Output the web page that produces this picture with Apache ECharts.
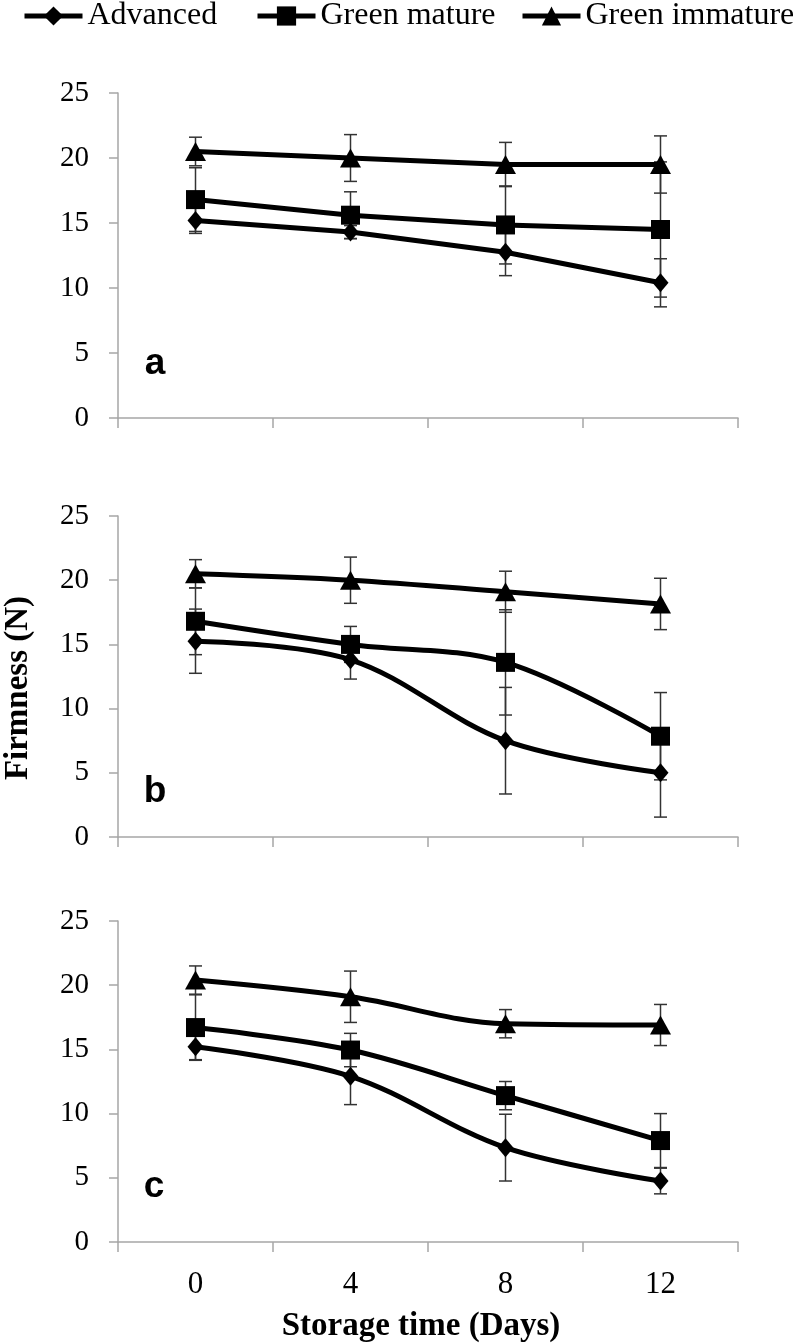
<!DOCTYPE html>
<html>
<head>
<meta charset="utf-8">
<script src="https://cdn.jsdelivr.net/npm/echarts@6/dist/echarts.min.js"></script>
<style>
html,body{margin:0;padding:0;background:#fff;}
#chart{width:793px;height:1343px;}
</style>
</head>
<body>
<div id="chart"></div>
<script>
const days = ['0', '4', '8', '12'];
const seriesNames = ['Advanced', 'Green mature', 'Green immature'];
const yTicks = [0, 5, 10, 15, 20, 25];
const panelLabels = ['a', 'b', 'c'];

// Panel a
const advA = [15.2, 14.3, 12.75, 10.4];
const errAdvA = [1.0, 0.5, 1.8, 1.85];
const matA = [16.8, 15.6, 14.85, 14.5];
const errMatA = [2.45, 1.8, 3.0, 5.2];
const immA = [20.5, 20.0, 19.5, 19.5];
const errImmA = [1.1, 1.8, 1.7, 2.2];

// Panel b
const advB = [15.25, 13.8, 7.5, 5.0];
const errAdvB = [2.5, 1.5, 4.15, 3.45];
const matB = [16.8, 15.0, 13.6, 7.85];
const errMatB = [2.6, 1.4, 4.1, 3.4];
const immB = [20.5, 20.0, 19.1, 18.15];
const errImmB = [1.1, 1.8, 1.6, 2.0];

// Panel c
const advC = [15.2, 12.9, 7.35, 4.75];
const errAdvC = [1.0, 2.2, 2.6, 1.0];
const matC = [16.7, 14.95, 11.4, 7.9];
const errMatC = [2.55, 1.3, 1.1, 2.1];
const immC = [20.4, 19.1, 17.0, 16.9];
const errImmC = [1.1, 2.0, 1.1, 1.6];

const panels = [
  {vals: [advA, matA, immA], errs: [errAdvA, errMatA, errImmA], smooth: false},
  {vals: [advB, matB, immB], errs: [errAdvB, errMatB, errImmB], smooth: 0.35},
  {vals: [advC, matC, immC], errs: [errAdvC, errMatC, errImmC], smooth: 0.35}
];

const grids = [
  {left: 118, right: 55, top: 93, height: 325},
  {left: 118, right: 55, top: 516, height: 321},
  {left: 118, right: 55, top: 921, height: 321}
];

const symbols = [
  {symbol: 'diamond', size: [16, 19]},
  {symbol: 'rect', size: 19},
  {symbol: 'triangle', size: [21, 19]}
];

const legendLefts = [22, 255, 520];

const axisGray = '#a6a6a6';
const serif = '"Liberation Serif", "Times New Roman", serif';

function errRender(params, api) {
  const x = api.value(0), y = api.value(1), e = api.value(2);
  const top = api.coord([x, y + e]);
  const bot = api.coord([x, y - e]);
  const hw = 6.5;
  const st = {stroke: '#333', lineWidth: 1.5};
  return {
    type: 'group',
    children: [
      {type: 'line', shape: {x1: top[0], y1: top[1], x2: bot[0], y2: bot[1]}, style: st},
      {type: 'line', shape: {x1: top[0] - hw, y1: top[1], x2: top[0] + hw, y2: top[1]}, style: st},
      {type: 'line', shape: {x1: bot[0] - hw, y1: bot[1], x2: bot[0] + hw, y2: bot[1]}, style: st}
    ]
  };
}

const xAxes = [], yAxes = [], series = [];
panels.forEach((p, pi) => {
  xAxes.push({
    type: 'category', gridIndex: pi, data: days, boundaryGap: true,
    axisLine: {show: true, lineStyle: {color: axisGray, width: 1.5}},
    axisTick: {show: true, length: 10, interval: 0, lineStyle: {color: axisGray, width: 1.5}},
    axisLabel: {show: pi === 2, margin: 27, fontSize: 31, color: '#000', fontFamily: serif},
    splitLine: {show: false}
  });
  yAxes.push({
    type: 'value', gridIndex: pi, min: yTicks[0], max: yTicks[yTicks.length - 1], interval: 5,
    axisLine: {show: true, lineStyle: {color: axisGray, width: 1.5}},
    axisTick: {show: true, length: 9, lineStyle: {color: axisGray, width: 1.5}},
    axisLabel: {margin: 29, fontSize: 29, color: '#000', fontFamily: serif},
    splitLine: {show: false}
  });
  p.vals.forEach((v, si) => {
    series.push({
      type: 'custom', xAxisIndex: pi, yAxisIndex: pi, z: 1,
      renderItem: errRender,
      data: v.map((val, i) => [i, val, p.errs[si][i]]),
      silent: true
    });
  });
  p.vals.forEach((v, si) => {
    series.push({
      name: seriesNames[si], type: 'line', xAxisIndex: pi, yAxisIndex: pi, z: 3,
      data: v, smooth: p.smooth,
      symbol: symbols[si].symbol, symbolSize: symbols[si].size, showAllSymbol: true,
      lineStyle: {color: '#000', width: 5},
      itemStyle: {color: '#000', borderWidth: 0},
      emphasis: {disabled: true},
      animation: false
    });
  });
});

const letterPos = [[155, 364], [155, 792], [154, 1187]];

const legends = seriesNames.map((n, i) => ({
  data: [n], left: legendLefts[i], top: 0, padding: 0,
  itemWidth: 58, itemHeight: 24,
  lineStyle: {width: 5, color: '#000'},
  itemStyle: {color: '#000'},
  textStyle: {fontSize: 32, color: '#000', fontFamily: serif}
}));

const chart = echarts.init(document.getElementById('chart'), null, {renderer: 'canvas'});
chart.setOption({
  backgroundColor: '#fff',
  animation: false,
  legend: legends,
  grid: grids,
  xAxis: xAxes,
  yAxis: yAxes,
  series: series,
  graphic: [
    ...panelLabels.map((t, i) => ({
      type: 'text', x: letterPos[i][0], y: letterPos[i][1],
      style: {text: t, font: 'bold 37px "Liberation Sans", Arial, sans-serif', fill: '#000', align: 'center', verticalAlign: 'middle'}
    })),
    {type: 'text', x: 421, y: 1326,
      style: {text: 'Storage time (Days)', font: 'bold 33px ' + serif, fill: '#000', align: 'center', verticalAlign: 'middle'}},
    {type: 'text', x: 18, y: 688, rotation: Math.PI / 2,
      style: {text: 'Firmness (N)', font: 'bold 33px ' + serif, fill: '#000', align: 'center', verticalAlign: 'middle'}}
  ]
});
</script>
</body>
</html>
